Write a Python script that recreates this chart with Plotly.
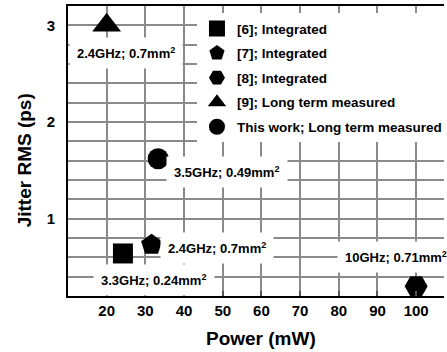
import plotly.graph_objects as go

# ---- data ----
names = ["[6]; Integrated", "[7]; Integrated", "[8]; Integrated",
         "[9]; Long term measured", "This work; Long term measured"]
power = [24.2, 31.6, 100.0, 20.0, 33.3]          # mW
jitter = [0.64, 0.73, 0.30, 3.0, 1.62]           # ps RMS
symbols = ["square", "pentagon", "hexagon2", "triangle-up", "circle"]
sizes = [20, 22, 23, 25, 21]

labels = ["3.3GHz; 0.24mm<sup>2</sup>", "2.4GHz; 0.7mm<sup>2</sup>",
          "10GHz; 0.71mm<sup>2</sup>", "2.4GHz; 0.7mm<sup>2</sup>",
          "3.5GHz; 0.49mm<sup>2</sup>"]
label_x = [32.3, 48.6, 94.8, 25.1, 51.2]
label_y = [0.37, 0.70, 0.605, 2.71, 1.48]

x_ticks = [20, 30, 40, 50, 60, 70, 80, 90, 100]
y_grid = [0.4, 0.6, 0.8, 1.0, 1.2, 1.4, 1.6, 1.8, 2.0, 2.2, 2.4, 2.6, 2.8, 3.0]
y_text = ["", "", "", "1", "", "", "", "", "2", "", "", "", "", "3"]

FONT = "Liberation Sans, Arial, sans-serif"

fig = go.Figure()
for n, px, jy, s, sz in zip(names, power, jitter, symbols, sizes):
    fig.add_trace(go.Scatter(
        x=[px], y=[jy], mode="markers", name=n, legendgroup=n,
        marker=dict(symbol=s, size=sz, color="black", line=dict(width=0)),
    ))

for t, lx, ly in zip(labels, label_x, label_y):
    fig.add_annotation(x=lx, y=ly, xref="x", yref="y", text=t, showarrow=False,
                       bgcolor="white", borderpad=7,
                       font=dict(family=FONT, size=13, color="black", weight="bold"))

# axis titles
fig.add_annotation(x=60, xref="x", y=-0.145, yref="paper", text="Power (mW)",
                   showarrow=False, xanchor="center", yanchor="middle",
                   font=dict(family=FONT, size=19, color="black", weight="bold"))
fig.add_annotation(x=-0.1135, xref="paper", y=0.469, yref="paper", text="Jitter RMS (ps)",
                   showarrow=False, textangle=-90, xanchor="center", yanchor="middle",
                   font=dict(family=FONT, size=19, color="black", weight="bold"))

grid = "#8a8a8a"
fig.update_layout(
    template="none",
    width=447, height=352,
    margin=dict(l=68, r=0, t=6, b=56),
    paper_bgcolor="white", plot_bgcolor="white",
    showlegend=True,
    legend=dict(x=0.343, y=0.975, xanchor="left", yanchor="top",
                bgcolor="white", borderwidth=0, tracegroupgap=4,
                font=dict(family=FONT, size=13.5, color="black", weight="bold")),
    xaxis=dict(range=[10, 107.2], tickmode="array", tickvals=x_ticks,
               showgrid=True, gridcolor=grid, gridwidth=2, zeroline=False,
               showline=True, linecolor="black", linewidth=2, mirror=True,
               ticks="inside", ticklen=5, tickwidth=2, tickcolor="#555555",
               tickfont=dict(family=FONT, size=15, color="black", weight="bold")),
    yaxis=dict(range=[0.2, 3.2], tickmode="array", tickvals=y_grid, ticktext=y_text,
               showgrid=True, gridcolor=grid, gridwidth=2, zeroline=False,
               showline=True, linecolor="black", linewidth=2, mirror=False,
               ticks="", ticklabelstandoff=8,
               tickfont=dict(family=FONT, size=15, color="black", weight="bold")),
)

fig.write_html("out.html")
